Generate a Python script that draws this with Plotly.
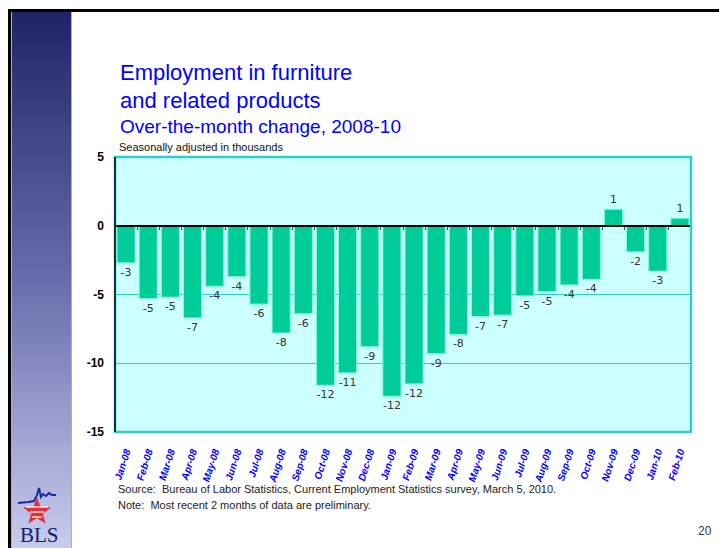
import base64
import math
import plotly.graph_objects as go

months = ["Jan-08", "Feb-08", "Mar-08", "Apr-08", "May-08", "Jun-08", "Jul-08", "Aug-08",
          "Sep-08", "Oct-08", "Nov-08", "Dec-08", "Jan-09", "Feb-09", "Mar-09", "Apr-09",
          "May-09", "Jun-09", "Jul-09", "Aug-09", "Sep-09", "Oct-09", "Nov-09", "Dec-09",
          "Jan-10", "Feb-10"]
change = [-2.7, -5.3, -5.2, -6.7, -4.4, -3.7, -5.7, -7.8,
          -6.4, -11.6, -10.7, -8.8, -12.4, -11.5, -9.3, -7.9,
          -6.6, -6.5, -5.1, -4.8, -4.3, -3.9, 1.2, -1.9,
          -3.3, 0.55]
y_ticks = [5, 0, -5, -10, -15]

W, H = 719, 548
L, R, T, B = 115, 28, 157, 116
PW, PH = W - L - R, H - T - B


def px(x):
    return (x - L) / PW


def py(y):
    return (H - B - y) / PH


fig = go.Figure()
fig.add_trace(go.Bar(
    x=months, y=change,
    marker=dict(color="#00CC99", line=dict(color="#7FFFD4", width=1)),
    width=0.82,
    texttemplate="%{y:.0f}", textposition="outside", constraintext="none",
    textfont=dict(family="DejaVu Sans", size=11, color="#333333"),
    cliponaxis=False, showlegend=False, hoverinfo="x+y",
))
# invisible trace carrying the zero-line axis (ticks between categories)
fig.add_trace(go.Scatter(
    x=months, y=change, xaxis="x2", mode="markers",
    marker=dict(opacity=0), showlegend=False, hoverinfo="skip",
))

# sidebar gradient as an SVG image
svg = ('<svg xmlns="http://www.w3.org/2000/svg" width="61" height="537" preserveAspectRatio="none">'
       '<defs><linearGradient id="g" x1="0" y1="0" x2="0" y2="1">'
       '<stop offset="0" stop-color="#1E2468"/>'
       '<stop offset="0.5" stop-color="#686CAC"/>'
       '<stop offset="1" stop-color="#C8CCEC"/>'
       '</linearGradient></defs>'
       '<rect width="61" height="537" fill="url(#g)"/></svg>')
src = "data:image/svg+xml;base64," + base64.b64encode(svg.encode()).decode()
images = [dict(source=src, xref="paper", yref="paper", x=px(11), y=py(11),
               sizex=px(72) - px(11), sizey=py(11) - py(H), xanchor="left", yanchor="top",
               sizing="stretch", layer="below")]

shapes = []
# sidebar light edges
for xe in (11.5, 71.5):
    shapes.append(dict(type="line", xref="paper", yref="paper", x0=px(xe), x1=px(xe),
                       y0=py(11), y1=py(H), line=dict(color="#A8ACDC", width=1), layer="below"))
# black frame
shapes.append(dict(type="line", xref="paper", yref="paper", x0=px(8), x1=px(W),
                   y0=py(10.5), y1=py(10.5), line=dict(color="black", width=3), layer="below"))
shapes.append(dict(type="line", xref="paper", yref="paper", x0=px(9.5), x1=px(9.5),
                   y0=py(9), y1=py(H), line=dict(color="black", width=3), layer="below"))
# plot border
shapes.append(dict(type="rect", xref="paper", yref="paper", x0=0, x1=1, y0=0, y1=1,
                   line=dict(color="#33CCCC", width=2.5), layer="above"))
shapes.append(dict(type="line", xref="paper", yref="paper", x0=0, x1=0, y0=0, y1=1,
                   line=dict(color="black", width=1.5), layer="above"))

# BLS logo
cx, cy, ro, ri = 37, 512, 14, 5.8
pts = []
for k in range(10):
    ang = -math.pi / 2 + k * math.pi / 5
    r = ro if k % 2 == 0 else ri
    pts.append((cx + r * math.cos(ang), cy + r * math.sin(ang)))
path = "M " + " L ".join("%.4f,%.4f" % (px(a), py(b)) for a, b in pts) + " Z"
shapes.append(dict(type="path", xref="paper", yref="paper", path=path,
                   fillcolor="#E0303A", line=dict(color="#E0303A", width=0.5), layer="above"))
for yy, hw in ((507, 11), (512, 7), (517, 5)):
    shapes.append(dict(type="line", xref="paper", yref="paper", x0=px(cx - hw), x1=px(cx + hw),
                       y0=py(yy), y1=py(yy), line=dict(color="white", width=1.2), layer="above"))
wave = [(18, 503), (28, 502), (34, 501), (37, 495), (39, 488), (41, 497), (43, 494),
        (46, 496), (49, 493), (52, 495), (56, 495)]
wpath = "M " + " L ".join("%.4f,%.4f" % (px(a), py(b)) for a, b in wave)
shapes.append(dict(type="path", xref="paper", yref="paper", path=wpath,
                   line=dict(color="#1A2A9A", width=2), layer="above"))

ann = []
title_font = "Liberation Sans, Arial, sans-serif"
ann.append(dict(text="Employment in furniture", x=px(118), y=py(72), xref="paper", yref="paper",
                xanchor="left", yanchor="middle", showarrow=False,
                font=dict(family=title_font, size=22, color="#0000FF")))
ann.append(dict(text="and related products", x=px(118), y=py(100), xref="paper", yref="paper",
                xanchor="left", yanchor="middle", showarrow=False,
                font=dict(family=title_font, size=22, color="#0000FF")))
ann.append(dict(text="Over-the-month change, 2008-10", x=px(118), y=py(127), xref="paper", yref="paper",
                xanchor="left", yanchor="middle", showarrow=False,
                font=dict(family=title_font, size=19, color="#0000FF")))
ann.append(dict(text="Seasonally adjusted in thousands", x=px(117), y=py(147), xref="paper", yref="paper",
                xanchor="left", yanchor="middle", showarrow=False,
                font=dict(family=title_font, size=11, color="#111111")))
ann.append(dict(text="Source:  Bureau of Labor Statistics, Current Employment Statistics survey, March 5, 2010.",
                x=px(116), y=py(489), xref="paper", yref="paper", xanchor="left", yanchor="middle",
                showarrow=False, font=dict(family=title_font, size=11, color="#222222")))
ann.append(dict(text="Note:  Most recent 2 months of data are preliminary.",
                x=px(116), y=py(505), xref="paper", yref="paper", xanchor="left", yanchor="middle",
                showarrow=False, font=dict(family=title_font, size=11, color="#222222")))
ann.append(dict(text="20", x=px(696), y=py(531), xref="paper", yref="paper", xanchor="left",
                yanchor="middle", showarrow=False,
                font=dict(family=title_font, size=12, color="#333366")))
ann.append(dict(text="BLS", x=px(39), y=py(535), xref="paper", yref="paper", xanchor="center",
                yanchor="middle", showarrow=False,
                font=dict(family="Liberation Serif, serif", size=21, color="#14206A")))

fig.update_layout(
    width=W, height=H,
    margin=dict(l=L, r=R, t=T, b=B, pad=0),
    paper_bgcolor="white", plot_bgcolor="#CCFFFF",
    bargap=0.18,
    xaxis=dict(type="category", categoryarray=months, categoryorder="array",
               range=[-0.5, len(months) - 0.5], showgrid=False, showline=False,
               ticks="outside", ticklen=9, tickcolor="rgba(0,0,0,0)",
               tickangle=-72,
               tickfont=dict(family=title_font, size=10, color="#0000FF", weight="bold", style="italic")),
    xaxis2=dict(type="category", categoryarray=months, categoryorder="array", overlaying="x",
                anchor="free", position=0.75, side="bottom",
                range=[-0.5, len(months) - 0.5], showgrid=False, showline=True,
                linecolor="black", linewidth=2, ticks="outside", tickson="boundaries",
                ticklen=3, tickcolor="#444444", showticklabels=False),
    yaxis=dict(range=[-15, 5], tickvals=y_ticks, ticktext=[str(v) for v in y_ticks],
               showgrid=True, gridcolor="#33CCCC", gridwidth=1, zeroline=False,
               showline=False, ticks="", ticklabelstandoff=10,
               tickfont=dict(family=title_font, size=12, color="black", weight="bold")),
    shapes=shapes, annotations=ann, images=images,
    font=dict(family=title_font),
)

fig.write_html("out.html", config={"displayModeBar": False},
               post_script="document.body.style.margin='0';document.body.style.overflow='hidden';")
